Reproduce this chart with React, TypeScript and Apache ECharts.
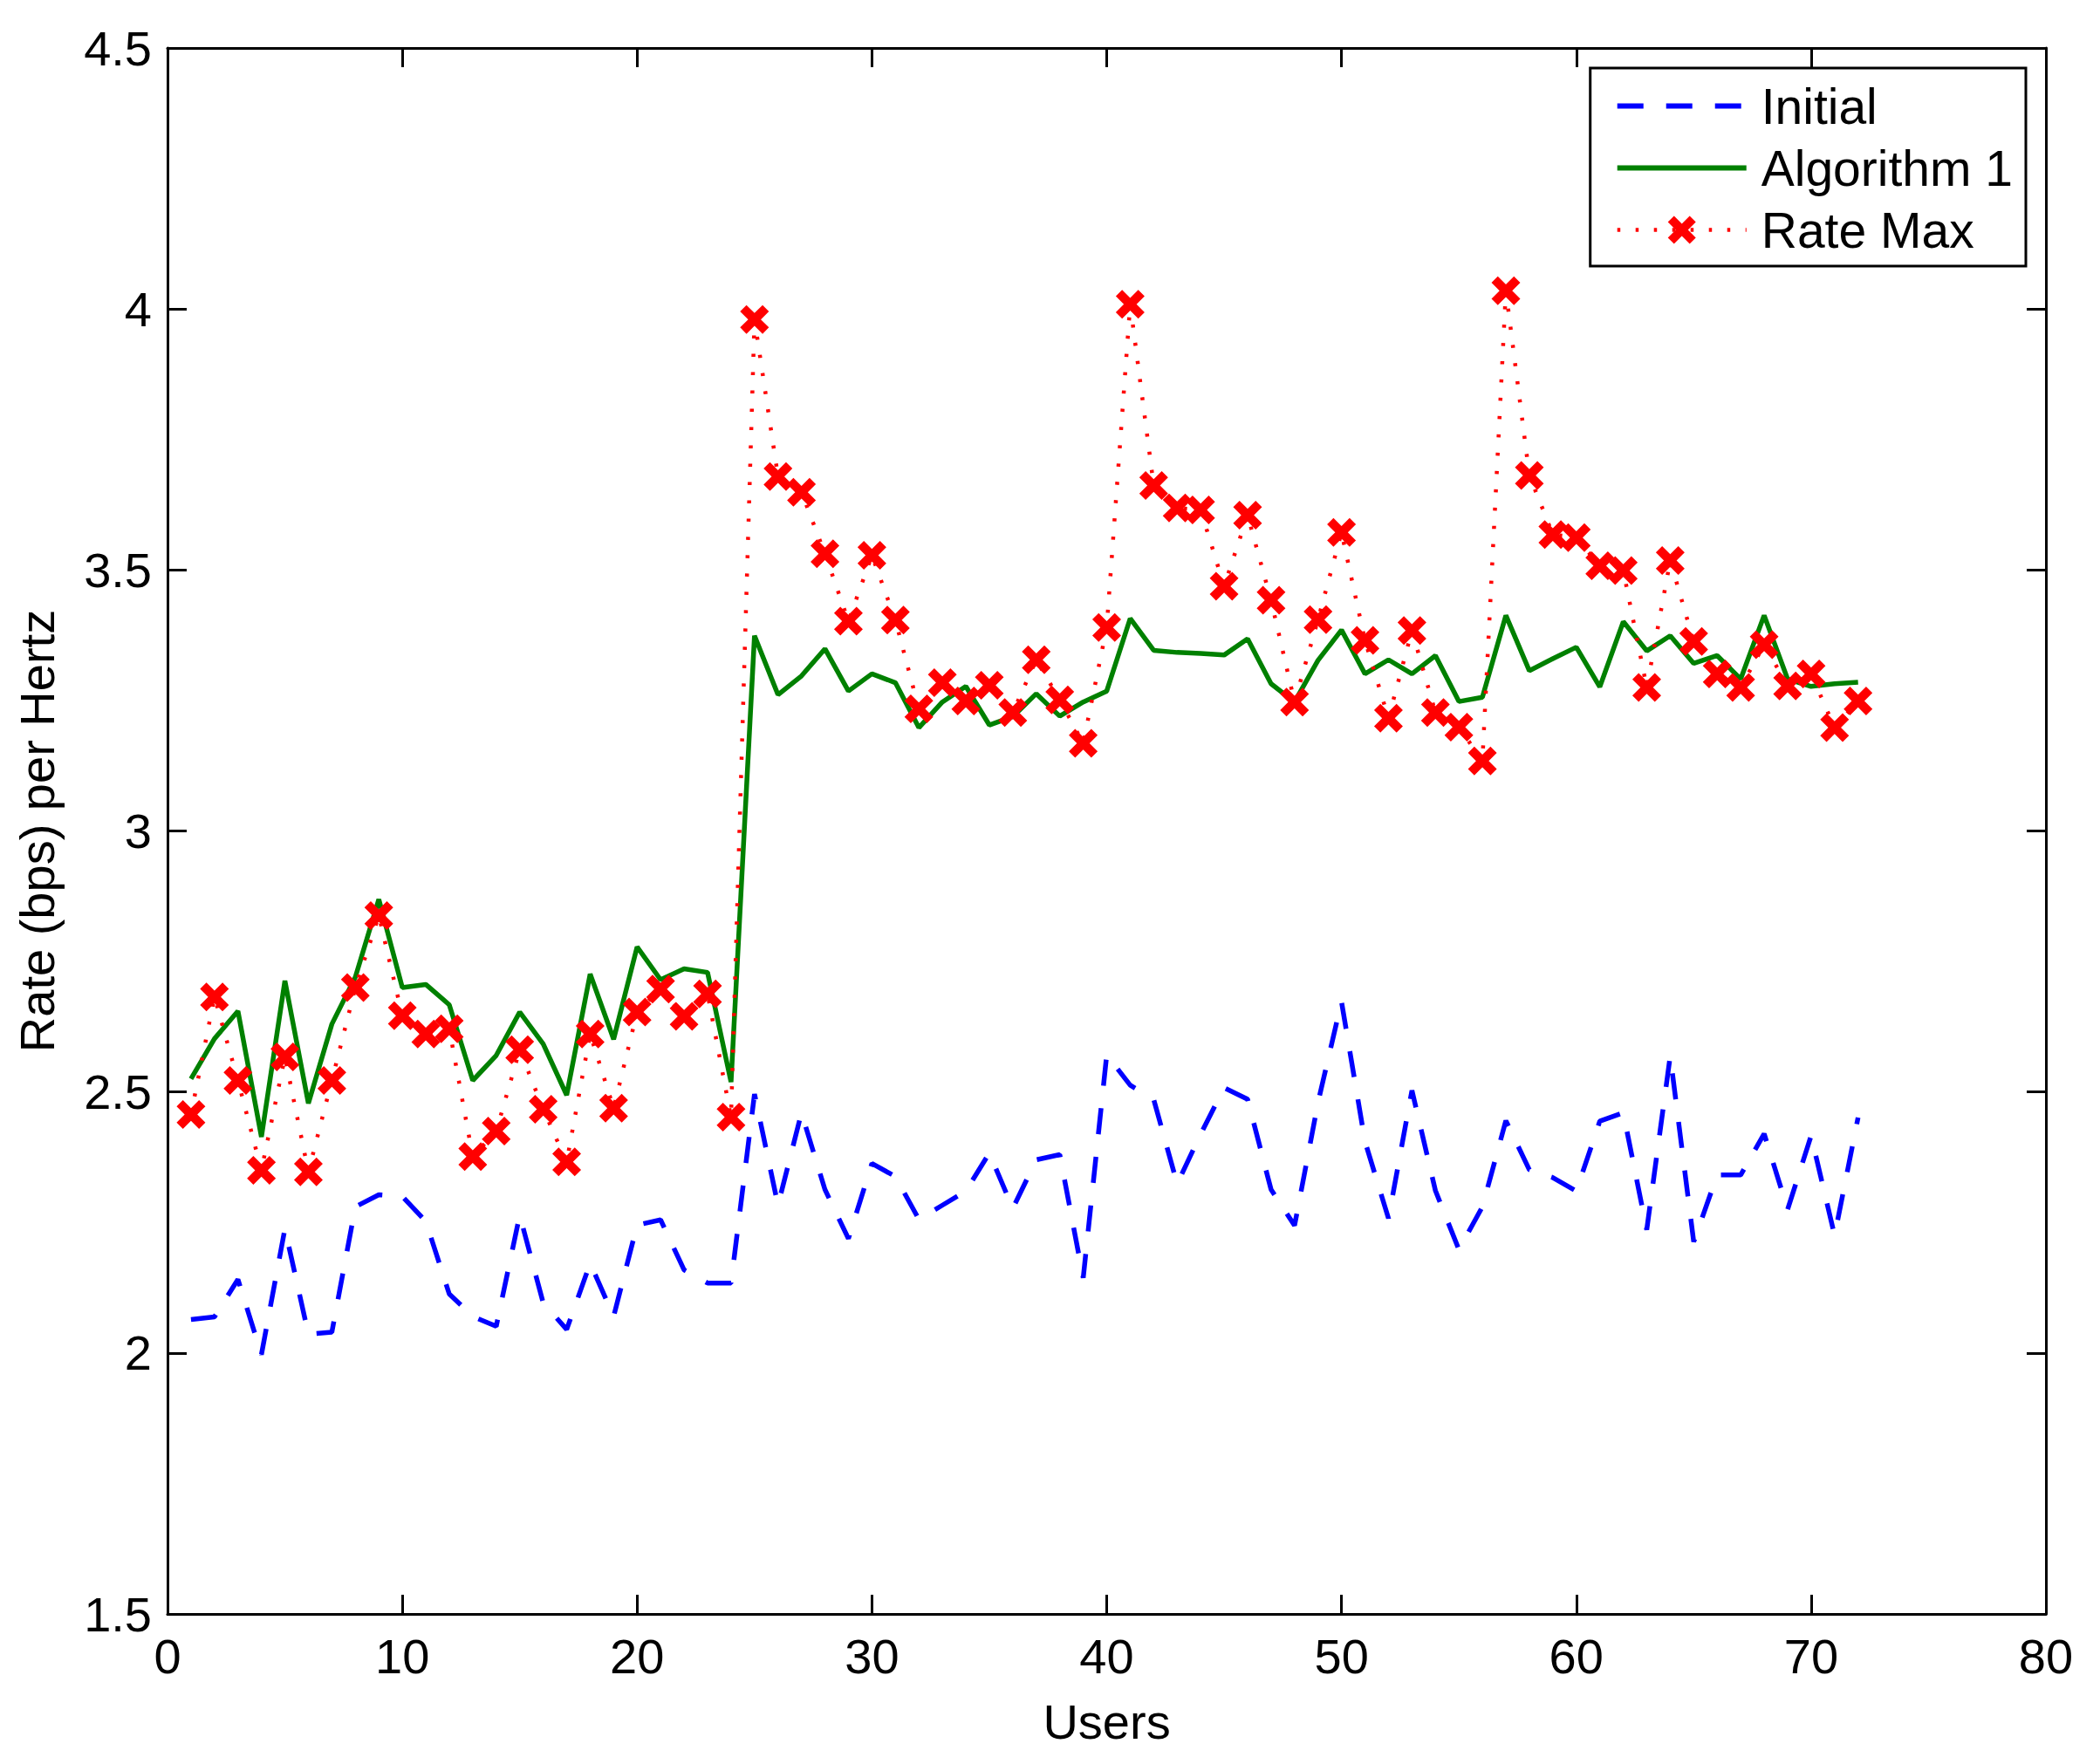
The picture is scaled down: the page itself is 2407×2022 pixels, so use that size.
import React, { useEffect, useRef } from "react";
import * as echarts from "echarts";

const users = [
  1, 2, 3, 4, 5, 6, 7, 8, 9, 10, 11, 12, 13, 14, 15, 16, 17, 18, 19, 20, 21, 22, 23, 24,
  25, 26, 27, 28, 29, 30, 31, 32, 33, 34, 35, 36, 37, 38, 39, 40, 41, 42, 43, 44, 45, 46, 47, 48,
  49, 50, 51, 52, 53, 54, 55, 56, 57, 58, 59, 60, 61, 62, 63, 64, 65, 66, 67, 68, 69, 70, 71, 72,
];

const initialRate = [
  2.064, 2.069, 2.141, 1.997, 2.238, 2.036, 2.04, 2.28, 2.303, 2.3, 2.252, 2.113,
  2.07, 2.051, 2.264, 2.096, 2.045, 2.172, 2.07, 2.245, 2.255, 2.159, 2.134, 2.134,
  2.496, 2.283, 2.46, 2.313, 2.219, 2.363, 2.338, 2.256, 2.283, 2.31, 2.383, 2.277,
  2.37, 2.38, 2.144, 2.571, 2.513, 2.486, 2.324, 2.419, 2.508, 2.486, 2.313, 2.244,
  2.48, 2.673, 2.405, 2.258, 2.503, 2.311, 2.198, 2.28, 2.445, 2.351, 2.336, 2.31,
  2.444, 2.46, 2.236, 2.569, 2.213, 2.341, 2.341, 2.42, 2.275, 2.416, 2.225, 2.451,
];

const algorithm1Rate = [
  2.525, 2.602, 2.655, 2.414, 2.713, 2.478, 2.63, 2.72, 2.869, 2.7, 2.706, 2.667,
  2.522, 2.57, 2.653, 2.592, 2.494, 2.726, 2.601, 2.778, 2.715, 2.736, 2.729, 2.519,
  3.374, 3.261, 3.297, 3.349, 3.268, 3.301, 3.284, 3.198, 3.247, 3.277, 3.203, 3.219,
  3.263, 3.22, 3.247, 3.268, 3.407, 3.346, 3.342, 3.34, 3.337, 3.368, 3.282, 3.247,
  3.327, 3.385, 3.301, 3.328, 3.301, 3.336, 3.248, 3.256, 3.413, 3.307, 3.33, 3.352,
  3.276, 3.401, 3.345, 3.374, 3.321, 3.336, 3.291, 3.413, 3.291, 3.277, 3.282, 3.285,
];

const rateMax = [
  2.457, 2.682, 2.522, 2.35, 2.567, 2.347, 2.522, 2.7, 2.838, 2.646, 2.611, 2.621,
  2.376, 2.425, 2.581, 2.467, 2.366, 2.611, 2.469, 2.653, 2.697, 2.645, 2.688, 2.452,
  3.98, 3.679, 3.649, 3.531, 3.402, 3.528, 3.404, 3.234, 3.284, 3.249, 3.279, 3.227,
  3.328, 3.251, 3.168, 3.39, 4.009, 3.662, 3.619, 3.615, 3.469, 3.605, 3.442, 3.247,
  3.405, 3.572, 3.365, 3.216, 3.384, 3.227, 3.199, 3.134, 4.035, 3.681, 3.568, 3.562,
  3.508, 3.499, 3.275, 3.518, 3.363, 3.301, 3.275, 3.357, 3.278, 3.301, 3.198, 3.249,
];

const seriesNames = ["Initial", "Algorithm 1", "Rate Max"];

const FONT = "'Liberation Sans', Arial, Helvetica, sans-serif";
const CROSS =
  "path://M2.2,0 L5,2.8 L7.8,0 L10,2.2 L7.2,5 L10,7.8 L7.8,10 L5,7.2 L2.2,10 L0,7.8 L2.8,5 L0,2.2 Z";

function pairs(ys: number[]) {
  return users.map((u, i) => [u, ys[i]]);
}

export default function App() {
  const ref = useRef<HTMLDivElement>(null);

  useEffect(() => {
    document.body.style.margin = "0";
    if (!ref.current) return;
    const chart = echarts.init(ref.current, undefined, { renderer: "svg" });

    const axisCommon = {
      axisLine: { show: true, onZero: false, lineStyle: { color: "#000", width: 3 } },
      axisTick: { show: true, inside: true, length: 22, lineStyle: { color: "#000", width: 3 } },
      splitLine: { show: false },
    };

    chart.setOption({
      animation: false,
      backgroundColor: "#ffffff",
      textStyle: { fontFamily: FONT },
      grid: { left: 192, right: 62, top: 55, bottom: 172, containLabel: false },
      legend: {
        data: [
          {
            name: seriesNames[0],
            itemStyle: { opacity: 0 },
            lineStyle: { color: "#0000ff", width: 6, type: [30, 26] },
          },
          {
            name: seriesNames[1],
            itemStyle: { opacity: 0 },
            lineStyle: { color: "#008000", width: 6, type: "solid" },
          },
          {
            name: seriesNames[2],
            lineStyle: { color: "#ff0000", width: 4.5, type: [3.5, 17.5] },
          },
        ],
        orient: "vertical",
        right: 85,
        top: 78,
        backgroundColor: "#ffffff",
        borderColor: "#000",
        borderWidth: 3,
        borderRadius: 0,
        padding: [15, 15, 13, 28],
        itemWidth: 148,
        itemHeight: 40,
        itemGap: 14,
        textStyle: { fontFamily: FONT, fontSize: 57, color: "#000", padding: [0, 0, 0, 12] },
      },
      xAxis: [
        {
          type: "value",
          min: 0,
          max: 80,
          interval: 10,
          name: "Users",
          nameLocation: "middle",
          nameGap: 95,
          nameTextStyle: { fontFamily: FONT, fontSize: 56, color: "#000" },
          axisLabel: { fontFamily: FONT, fontSize: 56, color: "#000", margin: 20 },
          ...axisCommon,
        },
        {
          type: "value",
          position: "top",
          min: 0,
          max: 80,
          interval: 10,
          axisLabel: { show: false },
          ...axisCommon,
        },
      ],
      yAxis: [
        {
          type: "value",
          min: 1.5,
          max: 4.5,
          interval: 0.5,
          name: "Rate (bps) per Hertz",
          nameLocation: "middle",
          nameGap: 122,
          nameTextStyle: { fontFamily: FONT, fontSize: 56, color: "#000" },
          axisLabel: { fontFamily: FONT, fontSize: 56, color: "#000", margin: 18 },
          ...axisCommon,
        },
        {
          type: "value",
          position: "right",
          min: 1.5,
          max: 4.5,
          interval: 0.5,
          axisLabel: { show: false },
          ...axisCommon,
        },
      ],
      series: [
        {
          name: seriesNames[0],
          type: "line",
          data: pairs(initialRate),
          symbol: "none",
          lineStyle: { color: "#0000ff", width: 5.5, type: [30, 26] },
          itemStyle: { color: "#0000ff" },
          z: 2,
        },
        {
          name: seriesNames[1],
          type: "line",
          data: pairs(algorithm1Rate),
          symbol: "none",
          lineStyle: { color: "#008000", width: 5.5, type: "solid" },
          itemStyle: { color: "#008000" },
          z: 3,
        },
        {
          name: seriesNames[2],
          type: "line",
          data: pairs(rateMax),
          symbol: CROSS,
          symbolSize: 33,
          showAllSymbol: true,
          lineStyle: { color: "#ff0000", width: 4.5, type: [3.5, 17.5] },
          itemStyle: { color: "#ff0000" },
          z: 4,
        },
      ],
    });

    return () => chart.dispose();
  }, []);

  return <div ref={ref} style={{ width: 2407, height: 2022 }} />;
}
